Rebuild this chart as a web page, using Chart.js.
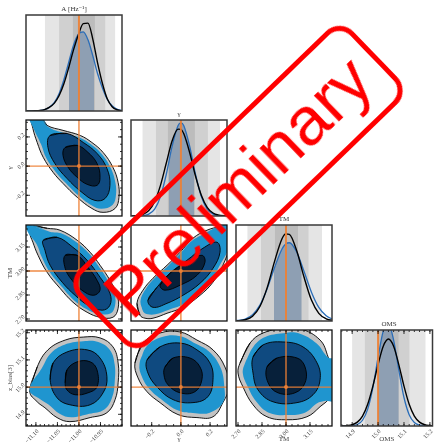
<!DOCTYPE html>
<html>
<head>
<meta charset="utf-8">
<title>corner plot</title>
<script src="https://cdn.jsdelivr.net/npm/chart.js@4.4.1/dist/chart.umd.min.js"></script>
<style>
  html, body { margin: 0; padding: 0; background: #fff; }
  #wrap { position: relative; width: 437px; height: 443px; overflow: hidden; }
  #wrap canvas { position: absolute; left: 0; top: 0; }
  #stamp {
    position: absolute; z-index: 10;
    left: 47px; top: 136px; width: 382px; height: 102px;
    box-sizing: border-box; border: 5px solid #ff0000; border-radius: 20px;
    transform: rotate(-44deg);
    color: #ff0000; font: 68px 'Liberation Sans', Arial, sans-serif;
    line-height: 90px; text-align: center; white-space: nowrap;
  }
</style>
</head>
<body>
<div id="wrap"><div id="stamp">Preliminary</div></div>
<script>
var W = 437, H = 443;
var SERIF = "'Liberation Serif', 'DejaVu Serif', serif";

// parameters (A, gamma, TM, OMS)
var names = ['A [Hz\u207b\u00b9]', '\u03b3', 'TM', 'OMS'];
var leftTitles = ['', '\u03b3', 'TM', 'z_bias[3]'];
var bottomTitles = ['', '\u03b3', 'TM', 'OMS'];
var truth = [-11.00, 0.0, 3.00, 15.0];
var axisMin = [-11.123, -0.342, 2.6875, 14.857];
var axisMax = [-10.900, 0.316, 3.2875, 15.210];
var tickA = [-11.10, -11.05, -11.00, -10.95];
var tickG = [-0.2, 0.0, 0.2];
var tickT = [2.70, 2.85, 3.00, 3.15];
var tickO = [14.9, 15.0, 15.1, 15.2];
var tickDigits = [2, 1, 2, 1];
var minorStep = [0.01, 0.05, 0.0375, 0.02];

// 1D marginals: black chain and blue chain
var xA = [-11.136, -11.125, -11.113, -11.102, -11.091, -11.080, -11.069, -11.057, -11.046, -11.035, -11.024, -11.013, -11.001, -10.990, -10.979, -10.968, -10.957, -10.945, -10.934, -10.923, -10.912, -10.901, -10.889];
var blackA = [0.000, 0.000, 0.001, 0.002, 0.005, 0.015, 0.037, 0.082, 0.161, 0.283, 0.448, 0.632, 0.798, 0.910, 0.915, 0.752, 0.507, 0.279, 0.125, 0.045, 0.013, 0.003, 0.001];
var blueA = [0.000, 0.000, 0.000, 0.001, 0.005, 0.014, 0.038, 0.089, 0.182, 0.325, 0.503, 0.681, 0.802, 0.825, 0.741, 0.578, 0.393, 0.233, 0.120, 0.055, 0.021, 0.007, 0.002];

var xG = [-0.34, -0.30, -0.26, -0.22, -0.18, -0.14, -0.10, -0.06, -0.02, 0.00, 0.02, 0.06, 0.10, 0.14, 0.18, 0.22, 0.26, 0.30, 0.34];
var blackG = [0.001, 0.005, 0.018, 0.058, 0.150, 0.319, 0.552, 0.783, 0.905, 0.903, 0.856, 0.662, 0.417, 0.216, 0.091, 0.031, 0.009, 0.002, 0.000];
var blueG = [0.000, 0.001, 0.004, 0.020, 0.072, 0.202, 0.435, 0.727, 0.940, 0.970, 0.940, 0.727, 0.435, 0.202, 0.072, 0.020, 0.004, 0.001, 0.000];

var xT = [2.607, 2.653, 2.699, 2.745, 2.791, 2.837, 2.883, 2.929, 2.975, 2.998, 3.021, 3.067, 3.113, 3.159, 3.205, 3.251, 3.297, 3.343];
var blackT = [0.000, 0.000, 0.002, 0.013, 0.050, 0.151, 0.350, 0.624, 0.856, 0.908, 0.903, 0.731, 0.455, 0.218, 0.080, 0.023, 0.005, 0.001];
var blueT = [0.000, 0.001, 0.006, 0.021, 0.066, 0.166, 0.339, 0.560, 0.750, 0.802, 0.815, 0.718, 0.515, 0.300, 0.141, 0.054, 0.017, 0.004];

var xO = [14.84, 14.86, 14.88, 14.90, 14.92, 14.94, 14.96, 14.98, 15.00, 15.02, 15.04, 15.06, 15.08, 15.10, 15.12, 15.14, 15.16, 15.18, 15.20, 15.22];
var blackO = [0.000, 0.001, 0.004, 0.013, 0.040, 0.103, 0.226, 0.415, 0.640, 0.831, 0.906, 0.831, 0.640, 0.415, 0.226, 0.103, 0.040, 0.013, 0.004, 0.001];
var blueO = [0.000, 0.000, 0.001, 0.003, 0.016, 0.060, 0.176, 0.401, 0.714, 0.988, 1.065, 0.894, 0.584, 0.297, 0.118, 0.036, 0.009, 0.002, 0.000, 0.000];

// credible-interval bands (outer, middle, inner) and shaded interval
var bandsA = [[-11.079, -10.916], [-11.046, -10.939], [-11.014, -10.963]];
var bandsG = [[-0.263, 0.268], [-0.171, 0.185], [-0.089, 0.096]];
var bandsT = [[2.759, 3.225], [2.844, 3.141], [2.931, 3.075]];
var bandsO = [[14.900, 15.183], [14.949, 15.121], [15.000, 15.079]];
var shadeA = [-11.023, -10.965];
var shadeG = [-0.082, 0.089];
var shadeT = [2.925, 3.097];
var shadeO = [15.000, 15.079];

// 2D contours [x, y]: grey outer, blue outer, middle, core
var agGrey = [[-11.090, 0.335], [-11.074, 0.279], [-11.037, 0.245], [-10.997, 0.210], [-10.970, 0.162], [-10.944, 0.094], [-10.921, -0.009], [-10.909, -0.112], [-10.907, -0.214], [-10.916, -0.290], [-10.944, -0.317], [-10.970, -0.290], [-11.004, -0.214], [-11.037, -0.119], [-11.060, -0.043], [-11.083, 0.060], [-11.097, 0.162], [-11.107, 0.258], [-11.110, 0.335]];
var agBlue = [[-11.088, 0.335], [-11.072, 0.270], [-11.033, 0.225], [-10.996, 0.193], [-10.972, 0.149], [-10.948, 0.086], [-10.927, -0.008], [-10.916, -0.103], [-10.914, -0.197], [-10.922, -0.267], [-10.948, -0.292], [-10.972, -0.267], [-11.003, -0.197], [-11.033, -0.109], [-11.054, -0.040], [-11.076, 0.055], [-11.088, 0.149], [-11.106, 0.262], [-11.115, 0.335]];
var agMid = [[-11.067, 0.210], [-11.028, 0.224], [-10.990, 0.162], [-10.958, 0.087], [-10.935, -0.016], [-10.928, -0.132], [-10.939, -0.221], [-10.963, -0.235], [-10.993, -0.180], [-11.028, -0.084], [-11.056, 0.018], [-11.072, 0.128]];
var agCore = [[-11.032, 0.128], [-11.004, 0.142], [-10.979, 0.094], [-10.958, 0.018], [-10.951, -0.077], [-10.958, -0.132], [-10.981, -0.125], [-11.004, -0.077], [-11.025, -0.009], [-11.037, 0.073]];

var atGrey = [[-11.105, 3.280], [-11.074, 3.267], [-11.044, 3.255], [-11.004, 3.192], [-10.974, 3.117], [-10.951, 3.036], [-10.928, 2.942], [-10.911, 2.848], [-10.909, 2.767], [-10.921, 2.711], [-10.951, 2.711], [-10.981, 2.742], [-11.014, 2.805], [-11.044, 2.892], [-11.074, 2.992], [-11.095, 3.098], [-11.107, 3.180], [-11.114, 3.242]];
var atBlue = [[-11.120, 3.295], [-11.068, 3.246], [-11.040, 3.235], [-11.004, 3.177], [-10.976, 3.108], [-10.955, 3.033], [-10.934, 2.947], [-10.918, 2.860], [-10.916, 2.786], [-10.927, 2.734], [-10.955, 2.734], [-10.983, 2.763], [-11.013, 2.821], [-11.040, 2.901], [-11.068, 2.993], [-11.087, 3.090], [-11.098, 3.166], [-11.120, 3.250]];
var atMid = [[-11.083, 3.192], [-11.051, 3.211], [-11.014, 3.148], [-10.981, 3.067], [-10.951, 2.961], [-10.928, 2.861], [-10.928, 2.786], [-10.946, 2.755], [-10.979, 2.786], [-11.009, 2.848], [-11.039, 2.930], [-11.067, 3.036], [-11.079, 3.130]];
var atCore = [[-11.032, 3.098], [-11.004, 3.098], [-10.979, 3.023], [-10.958, 2.942], [-10.951, 2.880], [-10.967, 2.848], [-10.993, 2.880], [-11.016, 2.942], [-11.032, 3.017]];

var gtGrey = [[-0.280, 2.723], [-0.301, 2.798], [-0.260, 2.880], [-0.191, 2.955], [-0.095, 3.036], [-0.006, 3.117], [0.083, 3.205], [0.179, 3.255], [0.268, 3.273], [0.335, 3.255], [0.335, 3.161], [0.288, 3.036], [0.220, 2.930], [0.131, 2.848], [0.014, 2.773], [-0.095, 2.736], [-0.191, 2.705], [-0.246, 2.705]];
var gtBlue = [[-0.258, 2.745], [-0.277, 2.814], [-0.239, 2.890], [-0.176, 2.959], [-0.087, 3.033], [-0.006, 3.108], [0.076, 3.189], [0.165, 3.235], [0.262, 3.280], [0.335, 3.285], [0.335, 3.165], [0.265, 3.033], [0.202, 2.936], [0.121, 2.860], [0.013, 2.791], [-0.087, 2.757], [-0.176, 2.729], [-0.226, 2.729]];
var gtMid = [[-0.226, 2.817], [-0.164, 2.898], [-0.075, 2.986], [0.042, 3.067], [0.151, 3.142], [0.247, 3.180], [0.268, 3.117], [0.220, 3.017], [0.131, 2.923], [0.014, 2.848], [-0.095, 2.798], [-0.191, 2.773]];
var gtCore = [[-0.143, 2.911], [-0.075, 2.986], [0.042, 3.055], [0.144, 3.098], [0.165, 3.055], [0.110, 2.973], [-0.006, 2.911], [-0.109, 2.880]];

var aoGrey = [[-11.114, 14.983], [-11.097, 15.074], [-11.072, 15.137], [-11.032, 15.173], [-10.990, 15.184], [-10.951, 15.181], [-10.921, 15.148], [-10.909, 15.089], [-10.909, 15.016], [-10.916, 14.954], [-10.935, 14.906], [-10.974, 14.888], [-11.021, 14.873], [-11.051, 14.888], [-11.079, 14.924], [-11.097, 14.946]];
var aoBlue = [[-11.115, 14.990], [-11.086, 15.070], [-11.064, 15.126], [-11.028, 15.159], [-10.990, 15.169], [-10.955, 15.166], [-10.928, 15.136], [-10.917, 15.083], [-10.917, 15.017], [-10.923, 14.962], [-10.941, 14.918], [-10.976, 14.902], [-11.018, 14.889], [-11.045, 14.902], [-11.070, 14.935], [-11.090, 14.955]];
var aoMid = [[-11.067, 15.027], [-11.060, 15.089], [-11.028, 15.129], [-10.981, 15.137], [-10.951, 15.107], [-10.935, 15.038], [-10.944, 14.979], [-10.974, 14.935], [-11.021, 14.935], [-11.051, 14.961]];
var aoCore = [[-11.032, 15.016], [-11.028, 15.063], [-11.004, 15.093], [-10.974, 15.093], [-10.958, 15.063], [-10.958, 15.001], [-10.979, 14.979], [-11.009, 14.972], [-11.028, 14.990]];

var goGrey = [[-0.315, 15.089], [-0.260, 15.162], [-0.143, 15.199], [-0.006, 15.203], [0.110, 15.173], [0.220, 15.137], [0.302, 15.074], [0.330, 15.001], [0.288, 14.943], [0.220, 14.891], [0.110, 14.888], [-0.020, 14.899], [-0.143, 14.943], [-0.232, 14.983], [-0.294, 15.034]];
var goBlue = [[-0.284, 15.085], [-0.234, 15.150], [-0.129, 15.184], [-0.005, 15.187], [0.099, 15.160], [0.198, 15.128], [0.272, 15.071], [0.297, 15.005], [0.290, 14.945], [0.198, 14.906], [0.099, 14.904], [-0.018, 14.914], [-0.129, 14.953], [-0.209, 14.989], [-0.265, 15.035]];
var goMid = [[-0.232, 15.100], [-0.143, 15.148], [-0.006, 15.162], [0.110, 15.137], [0.199, 15.089], [0.220, 15.027], [0.185, 14.965], [0.083, 14.943], [-0.054, 14.954], [-0.164, 15.001], [-0.226, 15.052]];
var goCore = [[-0.109, 15.074], [-0.054, 15.107], [0.062, 15.107], [0.131, 15.074], [0.144, 15.027], [0.096, 14.983], [-0.006, 14.979], [-0.089, 15.009], [-0.116, 15.045]];

var toGrey = [[2.713, 15.089], [2.775, 15.162], [2.856, 15.199], [2.981, 15.215], [3.088, 15.215], [3.213, 15.173], [3.263, 15.111], [3.290, 15.052], [3.275, 14.965], [3.213, 14.928], [3.131, 14.891], [3.006, 14.880], [2.881, 14.891], [2.794, 14.935], [2.731, 15.001], [2.700, 15.052]];
var toBlue = [[2.742, 15.085], [2.798, 15.150], [2.870, 15.184], [2.983, 15.198], [3.079, 15.198], [3.192, 15.160], [3.260, 15.110], [3.300, 15.100], [3.300, 14.950], [3.248, 14.950], [3.192, 14.940], [3.118, 14.906], [3.005, 14.897], [2.893, 14.906], [2.815, 14.946], [2.758, 15.005], [2.730, 15.051]];
var toMid = [[2.794, 15.111], [2.856, 15.155], [2.981, 15.166], [3.106, 15.148], [3.194, 15.089], [3.213, 15.027], [3.169, 14.972], [3.069, 14.943], [2.919, 14.946], [2.825, 14.990], [2.794, 15.052]];
var toCore = [[2.881, 15.074], [2.944, 15.107], [3.069, 15.107], [3.119, 15.074], [3.119, 15.016], [3.056, 14.979], [2.950, 14.979], [2.888, 15.016]];

// lookups
var tickSets = [tickA, tickG, tickT, tickO];
var curveX = [xA, xG, xT, xO];
var curveBlack = [blackA, blackG, blackT, blackO];
var curveBlue = [blueA, blueG, blueT, blueO];
var bandSets = [bandsA, bandsG, bandsT, bandsO];
var shadeSets = [shadeA, shadeG, shadeT, shadeO];
var contours = {
    '1,0': [agGrey, agBlue, agMid, agCore],
    '2,0': [atGrey, atBlue, atMid, atCore],
    '2,1': [gtGrey, gtBlue, gtMid, gtCore],
    '3,0': [aoGrey, aoBlue, aoMid, aoCore],
    '3,1': [goGrey, goBlue, goMid, goCore],
    '3,2': [toGrey, toBlue, toMid, toCore]
};

// layout of the grid
var colLeft = [26, 131, 236, 341];
var rowTop = [15, 120, 225, 330];
var SIZE = 96, Y_AXIS_W = 26, X_AXIS_H = 17, TITLE_H = 10.4;
var bandColors = ['#e5e5e5', '#d0d0d0', '#bcbcbc'];
var levelFill = ['#c3c3c3', '#1f95cf', '#0f4a80', '#07203a'];
var levelLine = ['#000', null, '#000', '#000'];
var ORANGE = 'rgba(238,128,52,0.92)';

function label(v, d) {
    return (v < -1e-9 ? '\u2212' : '') + Math.abs(v).toFixed(d);
}
function pts(list) {
    return list.map(function (p) { return {x: p[0], y: p[1]}; });
}
function loop(list) {
    var p = pts(list);
    return p.concat([p[0], p[1]]);
}
function curve(xs, ys) {
    return xs.map(function (x, i) { return {x: x, y: ys[i]}; });
}

function edgeTicks(ctx, scale, a, major, minor, horizontal) {
    var marks = [];
    for (var v = Math.ceil(scale.min / minor - 1e-6) * minor; v <= scale.max + 1e-9; v += minor) marks.push([v, 2]);
    major.forEach(function (m) { marks.push([m, 4]); });
    ctx.beginPath();
    marks.forEach(function (m) {
        var p = scale.getPixelForValue(m[0]);
        if (horizontal) {
            ctx.moveTo(p, a.bottom); ctx.lineTo(p, a.bottom - m[1]);
            ctx.moveTo(p, a.top); ctx.lineTo(p, a.top + m[1]);
        } else {
            ctx.moveTo(a.left, p); ctx.lineTo(a.left + m[1], p);
            ctx.moveTo(a.right, p); ctx.lineTo(a.right - m[1], p);
        }
    });
    ctx.stroke();
}

// frame + inward ticks
var cornerDecor = {
    id: 'cornerDecor',
    afterDatasetsDraw: function (chart, args, o) {
        var ctx = chart.ctx, a = chart.chartArea;
        ctx.save();
        ctx.strokeStyle = '#000';
        ctx.lineWidth = 0.8;
        if (o.xMajor) edgeTicks(ctx, chart.scales.x, a, o.xMajor, o.xMinor, true);
        if (o.yMajor) edgeTicks(ctx, chart.scales.y, a, o.yMajor, o.yMinor, false);
        ctx.strokeStyle = o.frame;
        ctx.lineWidth = o.frameWidth;
        ctx.strokeRect(a.left, a.top, a.right - a.left, a.bottom - a.top);
        ctx.restore();
    }
};

// grey interval bands, then clip the shaded interval (dataset 0 is drawn first)
var bandPlugin = {
    id: 'bandPlugin',
    beforeDatasetsDraw: function (chart, args, o) {
        if (!o.bands) return;
        var ctx = chart.ctx, a = chart.chartArea, x = chart.scales.x;
        o.bands.forEach(function (b, i) {
            var l = x.getPixelForValue(b[0]), r = x.getPixelForValue(b[1]);
            ctx.fillStyle = bandColors[i];
            ctx.fillRect(l, a.top, r - l, a.bottom - a.top);
        });
        var s0 = x.getPixelForValue(o.shade[0]), s1 = x.getPixelForValue(o.shade[1]);
        ctx.save();
        ctx.beginPath();
        ctx.rect(s0, a.top, s1 - s0, a.bottom - a.top);
        ctx.clip();
    },
    afterDatasetDraw: function (chart, args, o) {
        if (o.bands && args.index === 0) chart.ctx.restore();
    }
};

function axis(p, show, isX, title) {
    var cfg = {
        type: 'linear', min: axisMin[p], max: axisMax[p], display: show,
        grid: {display: false, drawTicks: false},
        border: {display: false},
        ticks: {
            autoSkip: false, minRotation: 45, maxRotation: 45, padding: 2,
            labelOffset: isX ? 2 : -3,
            font: {family: SERIF, size: 6}, color: '#444',
            callback: function (v) { return label(v, tickDigits[p]); }
        },
        title: {
            display: !!title, text: title, color: '#444',
            font: {family: SERIF, size: 7},
            padding: isX ? {top: 0, bottom: 0} : {top: 6, bottom: 0}
        },
        afterBuildTicks: function (s) {
            s.ticks = tickSets[p].map(function (v) { return {value: v}; });
        }
    };
    if (show) {
        cfg.afterFit = function (s) {
            if (isX) s.height = X_AXIS_H; else s.width = Y_AXIS_W;
        };
    }
    return cfg;
}

function addCanvas() {
    var c = document.createElement('canvas');
    c.width = W; c.height = H;
    document.getElementById('wrap').appendChild(c);
    return c.getContext('2d');
}

function build(col, row) {
    var diag = col === row;
    var hasX = row === 3, hasY = col === 0 && row > 0;
    var ds = [];
    if (diag) {
        var xs = curveX[col];
        ds.push({data: curve(xs, curveBlue[col]), fill: 'origin', backgroundColor: '#8e9fb3', borderWidth: 0, pointRadius: 0, cubicInterpolationMode: 'monotone', order: 4});
        ds.push({data: curve(xs, curveBlue[col]), fill: false, borderColor: '#2a6db8', borderWidth: 1.3, pointRadius: 0, cubicInterpolationMode: 'monotone', order: 3});
        ds.push({data: curve(xs, curveBlack[col]), fill: false, borderColor: '#000', borderWidth: 1.4, pointRadius: 0, cubicInterpolationMode: 'monotone', order: 2});
        ds.push({data: [{x: truth[col], y: 0}, {x: truth[col], y: 1}], fill: false, borderColor: ORANGE, borderWidth: 2, pointRadius: 0, order: 1});
    } else {
        var levels = contours[row + ',' + col];
        levels.forEach(function (lv, k) {
            ds.push({
                data: loop(lv), fill: 'shape', backgroundColor: levelFill[k],
                borderColor: levelLine[k] || 'rgba(0,0,0,0)', borderWidth: levelLine[k] ? 0.9 : 0,
                tension: 0.4, pointRadius: 0, order: 10 - k
            });
        });
        ds.push({data: [{x: truth[col], y: axisMin[row]}, {x: truth[col], y: axisMax[row]}], fill: false, borderColor: ORANGE, borderWidth: 1.4, pointRadius: 0, order: 3});
        ds.push({data: [{x: axisMin[col], y: truth[row]}, {x: axisMax[col], y: truth[row]}], fill: false, borderColor: ORANGE, borderWidth: 1.4, pointRadius: 0, order: 2});
        ds.push({data: [{x: truth[col], y: truth[row]}], showLine: false, pointRadius: 2, pointBackgroundColor: ORANGE, pointBorderWidth: 0, order: 1});
    }

    var yScale = diag ? {type: 'linear', display: false, min: 0, max: 1} : axis(row, hasY, false, leftTitles[row]);

    new Chart(addCanvas(), {
        type: 'line',
        data: {datasets: ds},
        options: {
            responsive: false,
            animation: false,
            events: [],
            layout: {
                autoPadding: false,
                padding: {
                    left: colLeft[col] - (hasY ? Y_AXIS_W : 0),
                    top: rowTop[row] - (diag ? TITLE_H : 0),
                    right: W - colLeft[col] - SIZE,
                    bottom: H - rowTop[row] - SIZE - (hasX ? X_AXIS_H : 0)
                }
            },
            plugins: {
                legend: {display: false},
                tooltip: {enabled: false},
                title: {
                    display: diag, text: names[col], color: '#333',
                    font: {family: SERIF, size: 7, weight: 'normal'},
                    padding: {top: 0, bottom: 2}
                },
                cornerDecor: {
                    frame: diag ? '#3a3a3a' : '#111', frameWidth: diag ? 1.5 : 1.3,
                    xMajor: hasX ? tickSets[col] : null, xMinor: minorStep[col],
                    yMajor: hasY ? tickSets[row] : null, yMinor: minorStep[row]
                },
                bandPlugin: diag ? {bands: bandSets[col], shade: shadeSets[col]} : {bands: null}
            },
            scales: {
                x: axis(col, hasX, true, hasX ? bottomTitles[col] : ''),
                y: yScale
            }
        },
        plugins: [cornerDecor, bandPlugin]
    });
}

for (var r = 0; r < 4; r++) {
    for (var c = 0; c <= r; c++) build(c, r);
}
</script>
</body>
</html>
